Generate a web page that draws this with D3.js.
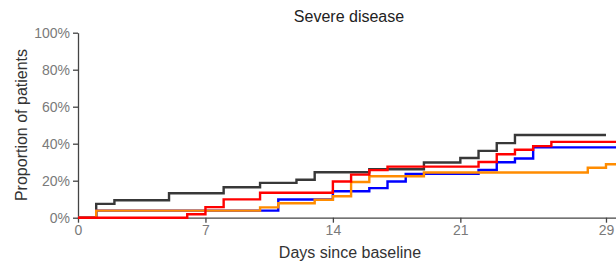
<!DOCTYPE html>
<html>
<head>
<meta charset="utf-8">
<script src="https://cdn.jsdelivr.net/npm/d3@7"></script>
<style>
  body { margin: 0; background: #fff; }
  svg { display: block; font-family: "Liberation Sans", Arial, sans-serif; }
  .axis path, .axis line { stroke: #444; stroke-width: 1.3; }
  .axis text { fill: #7a7a7a; font-size: 14px; }
</style>
</head>
<body>
<div id="chart"></div>
<script>
// step times (days) and cumulative proportion (%) after each step
const blackTimes = [0, 1, 2, 5, 8, 10, 12, 13, 16, 19, 21, 22, 23, 24];
const blackValues = [0, 7.5, 9.4, 13.2, 16.5, 18.8, 20.5, 24.6, 26.2, 29.8, 32.3, 36.1, 40.3, 44.7];
const blackEnd = 29;

const blueTimes = [0, 1, 11, 14, 16, 17, 18, 22, 23, 24, 25];
const blueValues = [0, 3.8, 9.8, 14.3, 16.0, 19.6, 23.7, 25.8, 30.0, 32.0, 38.0];
const blueEnd = 29.6;

const orangeTimes = [0, 1, 10, 11, 13, 14, 15, 16, 19, 28, 29];
const orangeValues = [0, 3.8, 5.6, 7.8, 9.7, 11.6, 19.3, 22.4, 24.4, 27.0, 28.9];
const orangeEnd = 29.6;

const redTimes = [0, 6, 7, 8, 10, 14, 15, 16, 17, 22, 23, 24, 25, 26];
const redValues = [0, 1.9, 5.7, 9.9, 13.5, 19.6, 23.3, 25.7, 27.6, 30.1, 34.3, 36.7, 38.7, 41.0];
const redEnd = 29.6;

const xTicks = [0, 7, 14, 21, 29];
const yTicks = [0, 20, 40, 60, 80, 100];

const width = 616, height = 264;
const margin = {top: 32.7, right: 0, bottom: 46.3, left: 78};

const x = d3.scaleLinear().domain([0, 29.55]).range([margin.left, width - margin.right]);
const y = d3.scaleLinear().domain([0, 100]).range([height - margin.bottom, margin.top]);

const svg = d3.select('#chart').append('svg')
    .attr('width', width)
    .attr('height', height);

const series = [
    {times: blackTimes, values: blackValues, end: blackEnd, color: '#383838'},
    {times: blueTimes, values: blueValues, end: blueEnd, color: '#0000ff'},
    {times: orangeTimes, values: orangeValues, end: orangeEnd, color: '#ff8c00'},
    {times: redTimes, values: redValues, end: redEnd, color: '#ff0000'}
];

// axes
svg.append('g')
    .attr('class', 'axis')
    .attr('transform', 'translate(0,' + y(0) + ')')
    .call(d3.axisBottom(x).tickValues(xTicks).tickSize(5).tickSizeOuter(0).tickPadding(2));

svg.append('g')
    .attr('class', 'axis')
    .attr('transform', 'translate(' + margin.left + ',0)')
    .call(d3.axisLeft(y).tickValues(yTicks).tickSize(5).tickSizeOuter(0).tickPadding(3)
        .tickFormat(d => d + '%'));

const line = d3.line()
    .x(d => x(d[0]))
    .y(d => y(d[1]))
    .curve(d3.curveStepAfter);

series.forEach(s => {
    let pts = s.times.map((t, i) => [t, s.values[i]]);
    pts.push([s.end, s.values[s.values.length - 1]]);
    svg.append('path')
        .attr('d', line(pts))
        .attr('fill', 'none')
        .attr('stroke', s.color)
        .attr('stroke-width', 2.4);
});

svg.append('text')
    .attr('x', 349)
    .attr('y', 22)
    .attr('text-anchor', 'middle')
    .attr('font-size', 16)
    .attr('fill', '#222')
    .text('Severe disease');

svg.append('text')
    .attr('x', 350)
    .attr('y', 258)
    .attr('text-anchor', 'middle')
    .attr('font-size', 16)
    .attr('fill', '#333')
    .text('Days since baseline');

svg.append('text')
    .attr('transform', 'translate(27,125) rotate(-90)')
    .attr('text-anchor', 'middle')
    .attr('font-size', 16)
    .attr('fill', '#333')
    .text('Proportion of patients');
</script>
</body>
</html>
